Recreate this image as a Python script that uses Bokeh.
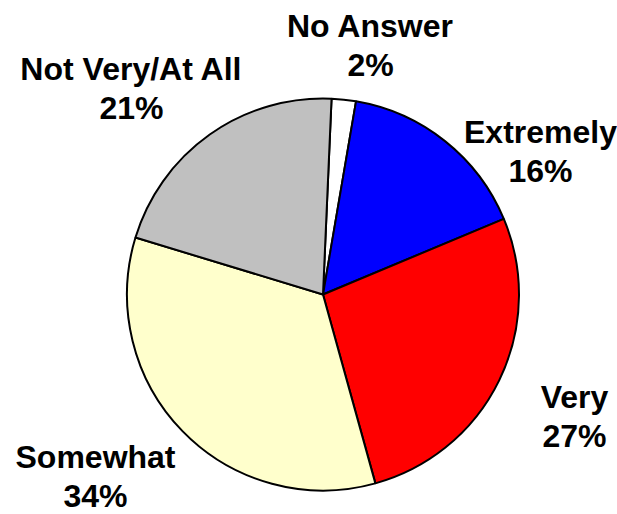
import math
from bokeh.plotting import figure
from bokeh.models import Range1d, ColumnDataSource
from bokeh.core.properties import value
from bokeh.embed import file_html
from bokeh.resources import INLINE

# Data (clockwise from near 12 o'clock)
categories = ["No Answer", "Extremely", "Very", "Somewhat", "Not Very/At All"]
percents = [2, 16, 27, 34, 21]
colors = ["#FFFFFF", "#0000FF", "#FF0000", "#FFFFCC", "#C0C0C0"]

# Layout (page pixel coordinates)
W, H = 617, 514
cx_pg, cy_pg, R = 322.5, 294, 196
start_offset_deg = 2.5  # clockwise from 12 o'clock
label_pos = [(370, 37), (540, 143), (574, 408), (95, 468), (131, 80)]
line_gap = 39
baseline_fix = 12

def to_y(py):
    return H - (py - baseline_fix)

p = figure(width=W, height=H, output_backend="svg", toolbar_location=None,
           x_range=Range1d(0, W), y_range=Range1d(0, H),
           min_border=0)
p.axis.visible = False
p.grid.visible = False
p.outline_line_color = None
p.background_fill_color = "white"
p.border_fill_color = "white"

total = float(sum(percents))
starts, ends = [], []
a = math.radians(90 - start_offset_deg)
for v in percents:
    starts.append(a)
    a = a - 2 * math.pi * v / total
    ends.append(a)

src = ColumnDataSource(dict(start=starts, end=ends, color=colors))
p.wedge(x=cx_pg, y=H - cy_pg, radius=R, start_angle="start", end_angle="end",
        direction="clock", fill_color="color", line_color="black", line_width=2,
        source=src)

lx = [pt[0] for pt in label_pos]
ly = [to_y(pt[1]) for pt in label_pos]
ly2 = [to_y(pt[1] + line_gap) for pt in label_pos]
pct_text = [f"{v}%" for v in percents]

common = dict(text_font=value("Liberation Sans"), text_font_style="bold",
              text_font_size="32px", text_align="center",
              text_baseline="alphabetic", text_color="black")
p.text(x=lx, y=ly, text=categories, **common)
p.text(x=lx, y=ly2, text=pct_text, **common)

open("out.html", "w").write(file_html(p, INLINE))
